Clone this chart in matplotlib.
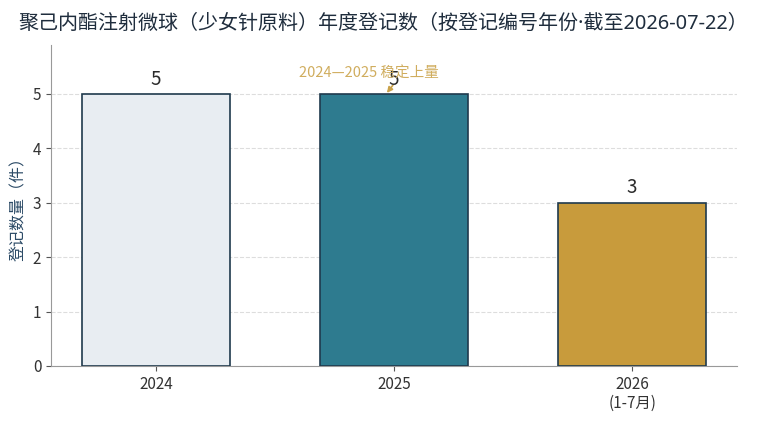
import matplotlib
matplotlib.use("Agg")
import matplotlib.pyplot as plt

plt.rcParams['font.family'] = ['Noto Sans CJK SC', 'DejaVu Sans']

categories = ["2024", "2025", "2026\n(1-7月)"]
values = [5, 5, 3]
colors = ["#e8edf2", "#2e7b8f", "#c89b3c"]
title = "聚己内酯注射微球（少女针原料）年度登记数（按登记编号年份·截至2026-07-22）"
ylabel = "登记数量（件）"
note = "2024—2025 稳定上量"

fig = plt.figure(figsize=(7.67, 4.25), dpi=100)
ax = fig.add_axes([0.0665, 0.139, 0.8945, 0.755])

x = list(range(len(categories)))
bars = ax.bar(x, values, width=0.62, color=colors, edgecolor="#1f3a4d", linewidth=1.2, zorder=3)
for xi, v in zip(x, values):
    ax.text(xi, v + 0.08, str(v), ha="center", va="bottom", fontsize=13.5, color="#2b2b2b", zorder=4)

ax.set_xticks(x)
ax.set_xticklabels(categories, fontsize=11, color="#333333")
ax.set_ylim(0, 5.9)
ax.set_yticks(range(0, 6))
ax.tick_params(axis="y", labelsize=11, colors="#333333")
ax.tick_params(axis="both", color="#555555")
ax.grid(axis="y", linestyle="--", color="#dddddd", linewidth=0.8, zorder=0)
ax.set_axisbelow(True)
for s in ["top", "right"]:
    ax.spines[s].set_visible(False)
ax.spines["left"].set_color("#999999")
ax.spines["bottom"].set_color("#999999")
ax.set_ylabel(ylabel, fontsize=11.5, color="#2b4a66")
fig.suptitle(title, fontsize=14.4, color="#1f2d3d", x=0.5, y=0.968,
             family=['Noto Sans', 'Noto Sans CJK SC'])

ax.text(0.895, 5.37, note, ha="center", va="center", fontsize=10.5, color="#d0ad5e", zorder=5)
ax.annotate("", xy=(0.97, 5.02), xytext=(0.995, 5.16),
            arrowprops=dict(arrowstyle="-|>", color="#c9a24a", lw=1.2, mutation_scale=8,
                            shrinkA=0, shrinkB=0))

fig.savefig("out.png", dpi=100)
